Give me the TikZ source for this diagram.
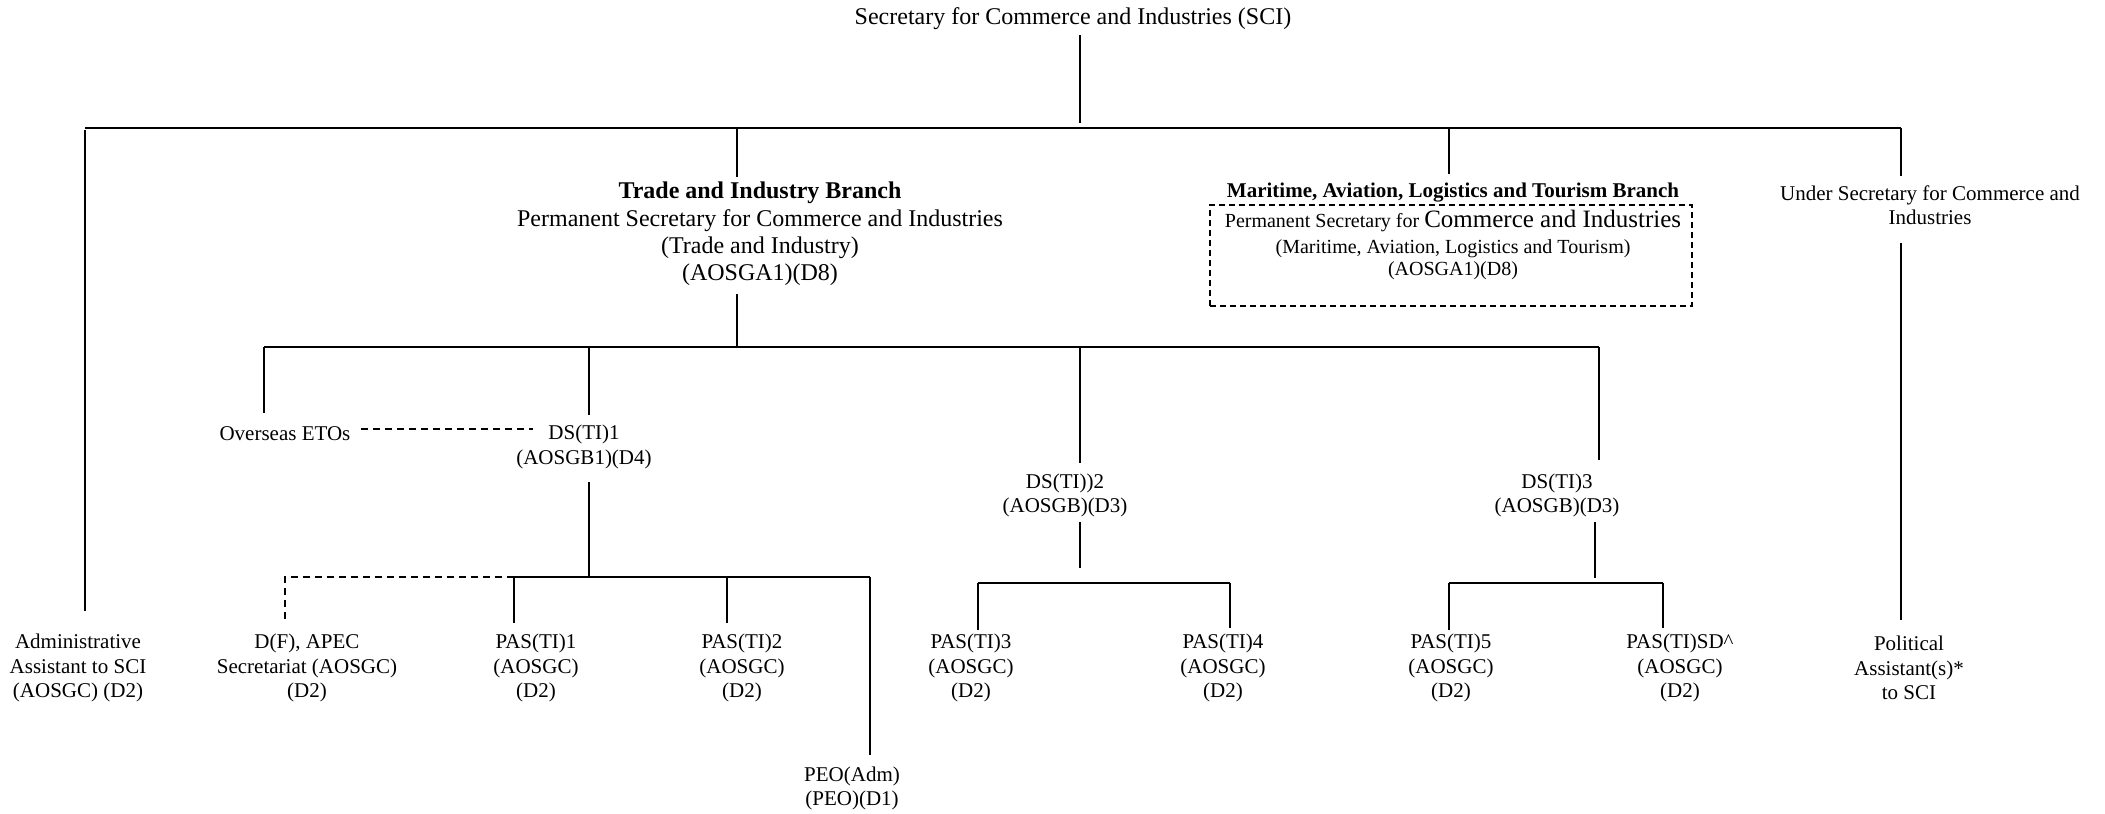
\documentclass[tikz,border=0pt]{standalone}
\usepackage{fontspec}
\setmainfont{Liberation Serif}
\begin{document}
\begin{tikzpicture}[x=1pt,y=-1pt,
  lbl/.style={align=center, inner sep=0pt, font=\fontsize{21}{24.5}\selectfont},
  biglbl/.style={align=center, inner sep=0pt, font=\fontsize{24}{27.3}\selectfont},
  ln/.style={line width=1.4pt},
  barline/.style={line width=2.2pt},
  dsh/.style={line width=1.4pt, dash pattern=on 7pt off 5pt},
  dbox/.style={draw, line width=1.4pt, dash pattern=on 6pt off 4pt, minimum width=482pt, minimum height=101pt, inner sep=0pt}]
\useasboundingbox (0,0) rectangle (2105,814);

% ---- nodes ----
\node[biglbl] (sci) at (1073,19) {Secretary for Commerce and Industries (SCI)};
\node[biglbl] (tib) at (760,234) {\textbf{Trade and Industry Branch}\\Permanent Secretary for Commerce and Industries\\(Trade and Industry)\\(AOSGA1)(D8)};
\node[align=center, inner sep=0pt, font=\fontsize{21}{24}\selectfont\bfseries] (malt) at (1453,193) {Maritime, Aviation, Logistics and Tourism Branch};
\node[dbox] (mbox) at (1451,255.5) {};
\node[align=center, inner sep=0pt, font=\fontsize{20}{22}\selectfont] (mtext) at (1453,245) {Permanent Secretary for {\fontsize{25}{25}\selectfont Commerce and Industries}\\[4pt](Maritime, Aviation, Logistics and Tourism)\\(AOSGA1)(D8)};
\node[lbl] (usci) at (1930,205) {Under Secretary for Commerce and\\Industries};
\node[lbl] (admin) at (78,668) {Administrative\\Assistant to SCI\\(AOSGC) (D2)};
\node[lbl] (eto) at (285,434) {Overseas ETOs};
\node[lbl] (ds1) at (584,447) {DS(TI)1\\(AOSGB1)(D4)};
\node[lbl] (ds2) at (1065,495.5) {DS(TI))2\\(AOSGB)(D3)};
\node[lbl] (ds3) at (1557,495.5) {DS(TI)3\\(AOSGB)(D3)};
\node[lbl] (dfapec) at (307,668) {D(F), APEC\\Secretariat (AOSGC)\\(D2)};
\node[lbl] (pas1) at (536,668) {PAS(TI)1\\(AOSGC)\\(D2)};
\node[lbl] (pas2) at (742,668) {PAS(TI)2\\(AOSGC)\\(D2)};
\node[lbl] (peo) at (852,788.5) {PEO(Adm)\\(PEO)(D1)};
\node[lbl] (pas3) at (971,668) {PAS(TI)3\\(AOSGC)\\(D2)};
\node[lbl] (pas4) at (1223,668) {PAS(TI)4\\(AOSGC)\\(D2)};
\node[lbl] (pas5) at (1451,668) {PAS(TI)5\\(AOSGC)\\(D2)};
\node[lbl] (passd) at (1680,668) {PAS(TI)SD\textasciicircum\\(AOSGC)\\(D2)};
\node[lbl] (pol) at (1909,668) {Political\\Assistant(s)*\\to SCI};

% ---- junction coordinates ----
\coordinate (sciB) at (1080,35);
\coordinate (sciJ) at (1080,123);
\coordinate (barL) at (85,128);
\coordinate (barR) at (1901,128);
\coordinate (adminB) at (85,130);
\coordinate (adminT) at (85,611);
\coordinate (tibJ) at (737,128);
\coordinate (tibT) at (737,177);
\coordinate (malJ) at (1449,128);
\coordinate (malT) at (1449,174);
\coordinate (usT) at (1901,176);
\coordinate (usB) at (1901,243);
\coordinate (polT) at (1901,620);
\coordinate (tibB) at (737,294);
\coordinate (b2J) at (737,347);
\coordinate (b2L) at (264,347);
\coordinate (b2R) at (1599,347);
\coordinate (etoT) at (264,413);
\coordinate (ds1J) at (589,347);
\coordinate (ds1T) at (589,415);
\coordinate (ds2J) at (1080,347);
\coordinate (ds2T) at (1080,463);
\coordinate (ds3T) at (1599,460);
\coordinate (etoR) at (361,429);
\coordinate (ds1L) at (533,429);
\coordinate (ds1B) at (589,482);
\coordinate (b3J) at (589,577);
\coordinate (b3L) at (514,577);
\coordinate (b3R) at (870,577);
\coordinate (b3D) at (285,577);
\coordinate (dfT) at (285,622);
\coordinate (pas1T) at (514,623);
\coordinate (b3M) at (727,577);
\coordinate (pas2T) at (727,623);
\coordinate (peoT) at (870,755);
\coordinate (ds2B) at (1080,522);
\coordinate (ds2E) at (1080,568);
\coordinate (b4L) at (978,583);
\coordinate (b4R) at (1230,583);
\coordinate (pas3T) at (978,630);
\coordinate (pas4T) at (1230,628);
\coordinate (ds3B) at (1595,522);
\coordinate (ds3E) at (1595,578);
\coordinate (b5L) at (1449,583);
\coordinate (b5R) at (1663,583);
\coordinate (pas5T) at (1449,630);
\coordinate (passdT) at (1663,628);

% ---- connectors ----
\draw[ln] (sciB) -- (sciJ);
\draw[barline] (barL) -- (barR);
\draw[ln] (adminB) -- (adminT);
\draw[ln] (tibJ) -- (tibT);
\draw[ln] (malJ) -- (malT);
\draw[ln] (barR) -- (usT);
\draw[ln] (usB) -- (polT);
\draw[ln] (tibB) -- (b2J);
\draw[barline] (b2L) -- (b2R);
\draw[ln] (b2L) -- (etoT);
\draw[ln] (ds1J) -- (ds1T);
\draw[ln] (ds2J) -- (ds2T);
\draw[ln] (b2R) -- (ds3T);
\draw[dsh] (etoR) -- (ds1L);
\draw[ln] (ds1B) -- (b3J);
\draw[barline] (b3L) -- (b3R);
\draw[dsh] (b3L) -- (b3D) -- (dfT);
\draw[ln] (b3L) -- (pas1T);
\draw[ln] (b3M) -- (pas2T);
\draw[ln] (b3R) -- (peoT);
\draw[ln] (ds2B) -- (ds2E);
\draw[barline] (b4L) -- (b4R);
\draw[ln] (b4L) -- (pas3T);
\draw[ln] (b4R) -- (pas4T);
\draw[ln] (ds3B) -- (ds3E);
\draw[barline] (b5L) -- (b5R);
\draw[ln] (b5L) -- (pas5T);
\draw[ln] (b5R) -- (passdT);
\end{tikzpicture}
\end{document}
